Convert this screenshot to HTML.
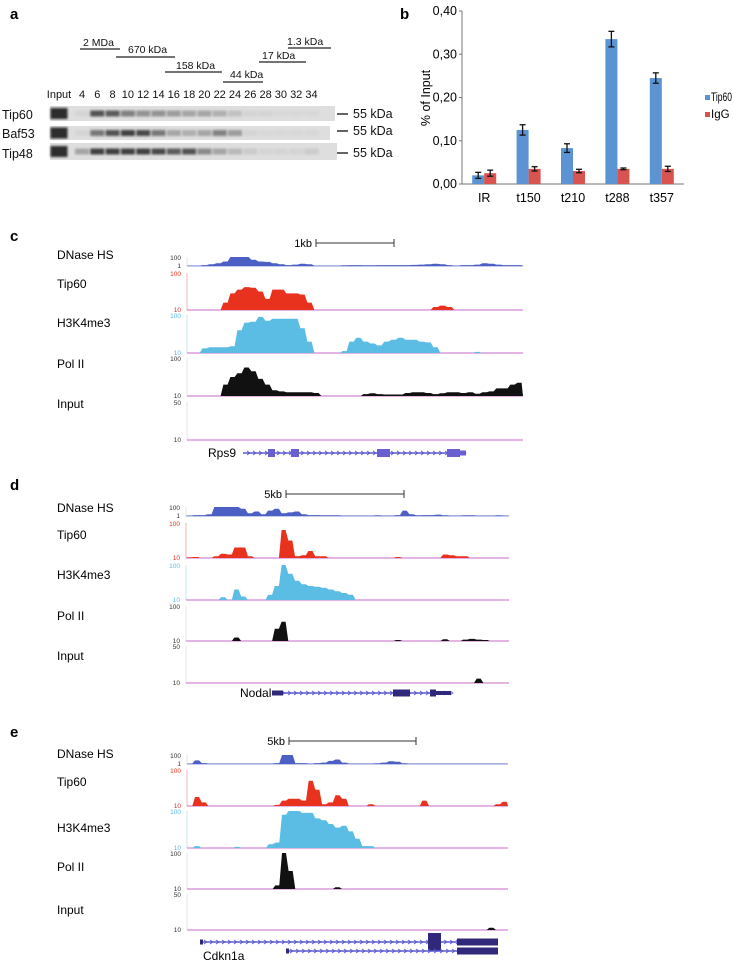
<!DOCTYPE html>
<html><head><meta charset="utf-8"><style>
html,body{margin:0;padding:0;background:#fff;}
svg{display:block;font-family:"Liberation Sans",Arial,sans-serif;}
</style></head><body>
<svg id="fig" width="733" height="960" viewBox="0 0 733 960">
<defs><filter id="blur" x="-30%" y="-80%" width="160%" height="260%"><feGaussianBlur stdDeviation="1.1"/></filter></defs>
<g>
<text x="10" y="19" font-size="15" font-weight="bold">a</text>
<g font-size="10.5" fill="#111">
<text x="83" y="46">2 MDa</text><line x1="80" y1="49" x2="120" y2="49" stroke="#222" stroke-width="1.2"/>
<text x="128" y="53">670 kDa</text><line x1="116" y1="57" x2="175" y2="57" stroke="#222" stroke-width="1.2"/>
<text x="176" y="69">158 kDa</text><line x1="165" y1="72" x2="222" y2="72" stroke="#222" stroke-width="1.2"/>
<text x="230" y="78">44 kDa</text><line x1="223" y1="82" x2="263" y2="82" stroke="#222" stroke-width="1.2"/>
<text x="262" y="59">17 kDa</text><line x1="259" y1="62" x2="306" y2="62" stroke="#222" stroke-width="1.2"/>
<text x="287" y="45">1.3 kDa</text><line x1="288" y1="48" x2="331" y2="48" stroke="#222" stroke-width="1.2"/>
</g>
<g id="lanes" font-size="11" fill="#111"></g>
<g id="blots"></g>
<g font-size="12.5" fill="#111">
<text x="2" y="119">Tip60</text>
<text x="2" y="138">Baf53</text>
<text x="2" y="158">Tip48</text>
<g><line x1="337" y1="114" x2="348" y2="114" stroke="#111" stroke-width="1.3"/><text x="353" y="118">55 kDa</text></g>
<g><line x1="337" y1="131" x2="348" y2="131" stroke="#111" stroke-width="1.3"/><text x="353" y="135">55 kDa</text></g>
<g><line x1="337" y1="153" x2="348" y2="153" stroke="#111" stroke-width="1.3"/><text x="353" y="157">55 kDa</text></g>
</g>
</g>
<g id="bar">
<text x="400" y="19" font-size="15" font-weight="bold">b</text>
<text transform="translate(430,98) rotate(-90)" text-anchor="middle" font-size="12.5">% of Input</text>
<g font-size="11.5">
<g><rect x="705" y="95" width="5" height="5" fill="#5b93d3"/><text x="711" y="101" textLength="21" lengthAdjust="spacingAndGlyphs">Tip60</text></g>
<g><rect x="705" y="112" width="5" height="5" fill="#d9534f"/><text x="711" y="118">IgG</text></g>
</g>
</g>
<g id="tracks"></g>
</svg>
<script>
// ---------- panel a data ----------
const laneLabels = ["Input","4","6","8","10","12","14","16","18","20","22","24","26","28","30","32","34"];
const tip60Bands = [1.0,0.05,0.8,0.75,0.55,0.45,0.45,0.35,0.3,0.3,0.25,0.15,0.05,0.05,0.03,0.03,0.03];
const baf53Bands = [1.0,0.05,0.6,0.8,0.9,0.85,0.6,0.3,0.25,0.3,0.55,0.35,0.05,0.03,0.03,0.03,0.03];
const tip48Bands = [1.0,0.3,0.9,0.9,0.9,0.9,0.85,0.75,0.8,0.5,0.3,0.2,0.1,0.05,0.05,0.05,0.1];
// ---------- panel b data ----------
const categories = ["IR","t150","t210","t288","t357"];
const tip60Values = [0.020,0.125,0.083,0.335,0.245];
const tip60Errors = [0.007,0.012,0.010,0.018,0.012];
const iggValues = [0.025,0.035,0.030,0.035,0.035];
const iggErrors = [0.007,0.005,0.004,0.002,0.006];
const yTicks = [0,0.1,0.2,0.3,0.4];
const yTickLabels = ["0,00","0,10","0,20","0,30","0,40"];
// ---------- panels c/d/e data (fraction of track height, 48 bins) ----------
const cDnase = [.05,.05,.1,.2,.3,.5,1,1,1,.7,.5,.45,.3,.2,.1,.15,.25,.2,.05,.05,.05,.05,.08,.1,.1,.08,.08,.1,.1,.1,.1,.1,.12,.15,.2,.25,.2,.1,.05,.1,.1,.15,.3,.25,.15,.1,.1,.1];
const cTip60 = [0,0,0,0,0,.2,.45,.55,.62,.6,.5,.3,.55,.55,.45,.45,.42,.2,0,0,0,0,0,0,0,0,0,0,0,0,0,0,0,0,0,.08,.12,.08,0,0,0,0,0,0,0,0,0,0];
const cH3 = [0,0,.12,.15,.15,.15,.18,.6,.8,.82,.95,.85,.9,.9,.9,.9,.65,.3,0,0,0,0,.05,.3,.4,.3,.25,.2,.3,.35,.4,.35,.35,.3,.28,.15,0,0,0,0,0,.03,0,0,0,0,0,0];
const cPol = [0,0,0,0,0,.3,.5,.6,.75,.65,.45,.3,.15,.12,.1,.1,.1,.1,.08,0,0,0,0,0,0,.05,.07,.05,.04,.04,.04,.08,.1,.1,.08,.05,.07,.1,.1,.08,.1,.06,.1,.12,.2,.2,.3,.35];
const cInput = new Array(48).fill(0);
const dDnase = [.05,.1,.1,.2,1,1,1,1,.8,.3,.5,.2,.6,.8,.3,.4,.5,.2,.1,.1,.08,.08,.08,.05,.05,.05,.05,.05,.08,.05,.05,.1,.6,.2,.08,.1,.1,.15,.08,.05,.05,.08,.08,.05,.05,.05,.08,.05];
const dTip60 = [.02,.03,0,0,.05,.12,.1,.3,.3,.05,0,0,0,0,.8,.5,.05,.08,.2,.05,.05,0,0,0,0,0,0,0,0,0,0,.03,0,0,0,0,0,0,.1,.08,.05,.05,0,0,0,0,0,0];
const dH3 = [0,0,0,0,0,.08,0,.3,.1,0,0,0,.15,.4,1,.75,.55,.45,.4,.38,.35,.3,.25,.2,.15,0,0,0,0,0,0,0,0,0,0,0,0,0,0,0,0,0,0,0,0,0,0,0];
const dPol = [0,0,0,0,0,0,0,.1,0,0,0,0,0,.35,.55,0,0,0,0,0,0,0,0,0,0,0,0,0,0,0,0,.03,0,0,0,0,0,0,.05,0,0,.04,.06,.04,.03,0,0,0];
const dInput = [0,0,0,0,0,0,0,0,0,0,0,0,0,0,0,0,0,0,0,0,0,0,0,0,0,0,0,0,0,0,0,0,0,0,0,0,0,0,0,0,0,0,0,.12,0,0,0,0];
const eDnase = [.05,.4,.1,.05,.05,.05,.05,.05,.05,.05,.05,.05,.05,.1,1,1,.1,.1,.05,.1,.15,.35,.5,.15,.05,.05,.05,.05,.08,.15,.3,.25,.08,.05,.05,.05,.05,.05,.05,.05,.05,.05,.05,.05,.05,.05,.05,.05];
const eTip60 = [0,.25,.1,0,0,0,0,0,0,0,0,0,0,.03,.15,.2,.2,.15,.7,.45,.05,.1,.3,.2,0,0,0,.05,0,0,0,0,0,0,0,.15,0,0,0,0,0,0,0,0,0,0,.05,.12];
const eH3 = [0,.05,0,0,0,0,0,.03,0,0,0,0,.1,.15,.9,1,1,.95,.95,.8,.75,.65,.55,.6,.45,.25,.05,.05,0,0,0,0,0,0,0,0,0,0,0,0,0,0,0,0,0,0,0,0];
const ePol = [0,0,0,0,0,0,0,0,0,0,0,0,0,.1,1,.5,0,0,0,0,0,0,.05,0,0,0,0,0,0,0,0,0,0,0,0,0,0,0,0,0,0,0,0,0,0,0,0,0];
const eInput = [0,0,0,0,0,0,0,0,0,0,0,0,0,0,0,0,0,0,0,0,0,0,0,0,0,0,0,0,0,0,0,0,0,0,0,0,0,0,0,0,0,0,0,0,0,.06,0,0];

const NS = "http://www.w3.org/2000/svg";
function mk(tag, attrs, parent){const e=document.createElementNS(NS,tag);for(const k in attrs)e.setAttribute(k,attrs[k]);parent.appendChild(e);return e;}

// ----- panel a -----
const laneG = document.getElementById('lanes');
const laneX = i => i===0 ? 59 : 82 + (i-1)*15.3;
laneLabels.forEach((l,i)=>{
  const t = mk('text',{x:laneX(i),y:98,'text-anchor':'middle'},laneG);
  
  
  t.textContent = l;
});
const blotG = document.getElementById('blots');
const blots = [[tip60Bands,106,15,335,'tip60-blot'],[baf53Bands,126,14,330,'baf53-blot'],[tip48Bands,143,17,337,'tip48-blot']];
blots.forEach(([vals,y,h,x2,name])=>{
  const g = mk('g',{},blotG);
  
  
  mk('rect',{x:50,y:y,width:x2-50,height:h,fill:'#dedede'},g);
  vals.forEach((v,i)=>{
    const w = i===0?17:14;
    const b = mk('rect',{x:laneX(i)-w/2,y:y+h/2-(i===0?5.5:3),width:w,height:i===0?11:6,fill:'#111','fill-opacity':v*0.85,filter:'url(#blur)'},g);
    
    
  });
});

// ----- panel b -----
const barG = document.getElementById('bar');
const X0=462, X1=684, Y0=184, Ytop=11;
const yScale = v => Y0 - (v/0.4)*(Y0-Ytop);
const xCenter = i => X0 + (i+0.5)*(X1-X0)/categories.length;
mk('line',{x1:X0,y1:Ytop,x2:X0,y2:Y0,stroke:'#777','stroke-width':1},barG);
mk('line',{x1:X0,y1:Y0,x2:X1,y2:Y0,stroke:'#777','stroke-width':1},barG);
yTicks.forEach((t,i)=>{
  mk('line',{x1:X0-3,y1:yScale(t),x2:X0,y2:yScale(t),stroke:'#777'},barG);
  const tx = mk('text',{x:X0-5,y:yScale(t)+4,'text-anchor':'end','font-size':12.5},barG);
  
  
  tx.textContent = yTickLabels[i];
});
categories.forEach((c,i)=>{
  const tx = mk('text',{x:xCenter(i),y:Y0+18,'text-anchor':'middle','font-size':12.5},barG);
  
  
  tx.textContent = c;
  [[tip60Values,tip60Errors,'#5b93d3',-12,'bar-tip60'],[iggValues,iggErrors,'#d9534f',0,'bar-igg']].forEach(([vals,errs,col,off,nm])=>{
    const x = xCenter(i)+off;
    const r = mk('rect',{x:x,y:yScale(vals[i]),width:12,height:Y0-yScale(vals[i]),fill:col},barG);
    
    
    const cx=x+6, ya=yScale(vals[i]+errs[i]), yb=yScale(vals[i]-errs[i]);
    const eg = mk('g',{stroke:'#111','stroke-width':1.3},barG);
    
    
    mk('line',{x1:cx,y1:ya,x2:cx,y2:yb},eg);
    mk('line',{x1:cx-3,y1:ya,x2:cx+3,y2:ya},eg);
    mk('line',{x1:cx-3,y1:yb,x2:cx+3,y2:yb},eg);
  });
});

// ----- panels c/d/e -----
const tracksG = document.getElementById('tracks');
const panels = [
  {letter:'c',ly:241,ax:187,x2:523,scale:[316,394,243,'1kb'],
   tracks:[[cDnase,257,266,'#4b5fc4','DNase HS'],[cTip60,273,310,'#e8321e','Tip60'],[cH3,315,353,'#5bbce4','H3K4me3'],[cPol,358,396,'#111','Pol II'],[cInput,402,440,'#111','Input']],
   labelY:[259,288,327,368,408]},
  {letter:'d',ly:490,ax:186,x2:509,scale:[286,404,494,'5kb'],
   tracks:[[dDnase,507,516,'#4b5fc4','DNase HS'],[dTip60,523,558,'#e8321e','Tip60'],[dH3,565,600,'#5bbce4','H3K4me3'],[dPol,606,641,'#111','Pol II'],[dInput,646,683,'#111','Input']],
   labelY:[512,539,579,620,660]},
  {letter:'e',ly:737,ax:187,x2:508,scale:[289,416,741,'5kb'],
   tracks:[[eDnase,755,764,'#4b5fc4','DNase HS'],[eTip60,770,806,'#e8321e','Tip60'],[eH3,811,848,'#5bbce4','H3K4me3'],[ePol,853,889,'#111','Pol II'],[eInput,894,930,'#111','Input']],
   labelY:[758,786,832,871,914]}
];
panels.forEach(p=>{
  const pg = mk('g',{},tracksG);
  
  
  const lt = mk('text',{x:10,y:p.ly,'font-size':15,'font-weight':'bold'},pg);
  
  
  lt.textContent = p.letter;
  const [s1,s2,sy,st] = p.scale;
  const sg = mk('g',{stroke:'#333','stroke-width':1},pg);
  
  
  mk('line',{x1:s1,y1:sy,x2:s2,y2:sy},sg);mk('line',{x1:s1,y1:sy-4,x2:s1,y2:sy+4},sg);mk('line',{x1:s2,y1:sy-4,x2:s2,y2:sy+4},sg);
  const stx = mk('text',{x:s1-4,y:sy+4,'text-anchor':'end','font-size':11},pg);
  
  
  stx.textContent = st;
  p.tracks.forEach(([vals,top,base,col,name],ti)=>{
    const tg = mk('g',{},pg);
    
    
    const lab = mk('text',{x:57,y:p.labelY[ti],'font-size':12},tg);
    
    
    lab.textContent = name;
    const tickCol = ti===1?'#e8321e':ti===2?'#5bbce4':'#333';
    const hi = ti===4?'50':'100', lo = ti===0?'1':'10';
    const t1 = mk('text',{x:p.ax-6,y:top+3,'text-anchor':'end','font-size':6.5,fill:tickCol},tg); t1.textContent=hi;
     
    const t2 = mk('text',{x:p.ax-6,y:base+2,'text-anchor':'end','font-size':6.5,fill:tickCol},tg); t2.textContent=lo;
     
    mk('line',{x1:p.ax,y1:top,x2:p.ax,y2:base,stroke:tickCol==='#333'?'#bbb':tickCol,'stroke-width':0.6,'stroke-opacity':0.6},tg);
    mk('line',{x1:p.ax,y1:base,x2:p.x2,y2:base,stroke:ti===0?'#8a95d8':'#c86bc8','stroke-width':1},tg);
    const bw = (p.x2-p.ax)/vals.length;
    let d = 'M'+p.ax+','+base;
    vals.forEach((v,i)=>{
      const y = base - v*(base-top);
      d += ' L'+(p.ax+(i+0.2)*bw).toFixed(1)+','+y.toFixed(1)+' L'+(p.ax+(i+0.8)*bw).toFixed(1)+','+y.toFixed(1);
    });
    d += ' L'+p.x2+','+base+' Z';
    const path = mk('path',{d:d,fill:col},tg);
    
    
  });
});
function gene(parent,name,y,x1,x2,exons,label,lx,ly){
  const g = mk('g',{},parent);
  
  
  mk('line',{x1:x1,y1:y,x2:x2,y2:y,stroke:'#5a5ad0','stroke-width':1.5},g);
  for(let x=x1+4;x<x2;x+=6) mk('path',{d:`M${x},${y-2} L${x+3},${y} L${x},${y+2}`,stroke:'#5a5ad0',fill:'none','stroke-width':0.8},g);
  exons.forEach(([a,b,h,c])=>mk('rect',{x:a,y:y-h/2,width:b-a,height:h,fill:c||'#6a5fd0'},g));
  if(label){const t=mk('text',{x:lx,y:ly,'font-size':12},g);t.textContent=label;}
}
gene(tracksG,'rps9-gene',453,243,466,[[268,275,8],[291,299,8],[377,390,8],[447,460,8],[460,466,5]],'Rps9',208,457);
gene(tracksG,'nodal-gene',693,272,451,[[272,283,5,'#30287a'],[393,410,7,'#30287a'],[430,436,7,'#30287a'],[436,451,4,'#30287a']],'Nodal',240,697);
gene(tracksG,'cdkn1a-gene-1',942,200,498,[[200,203,5,'#30287a'],[428,441,18,'#30287a'],[457,498,7,'#30287a']],null,0,0);
gene(tracksG,'cdkn1a-gene-2',951,286,498,[[286,289,5,'#30287a'],[457,498,7,'#30287a']],'Cdkn1a',203,960);
</script>
</body></html>
